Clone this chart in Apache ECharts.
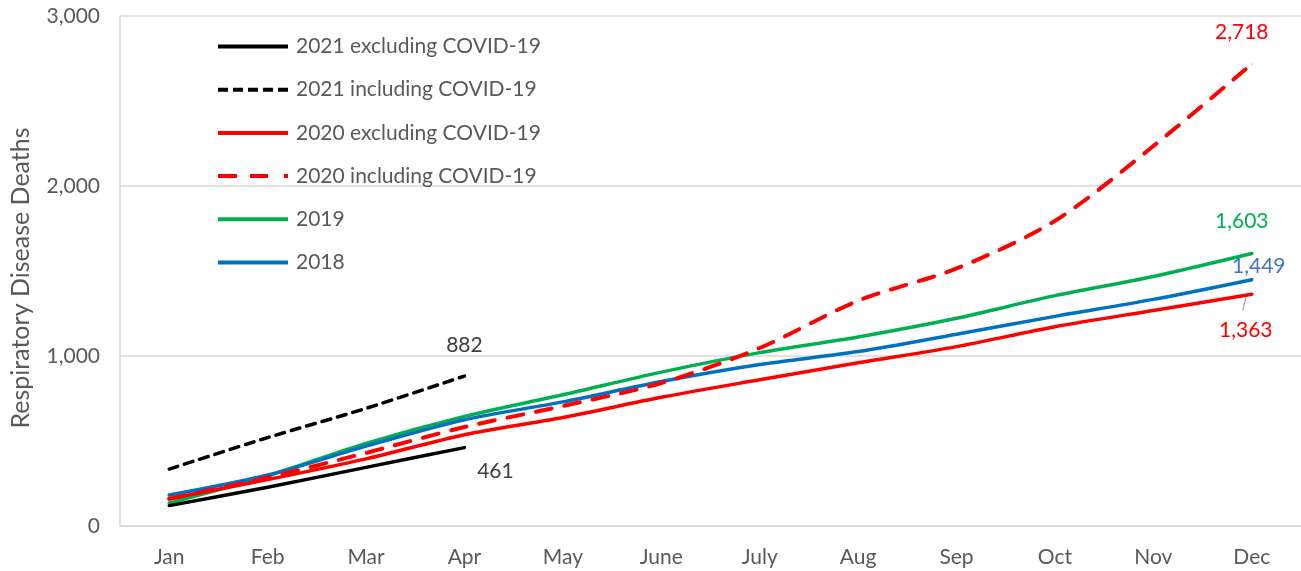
<!DOCTYPE html>
<html>
<head>
<meta charset="utf-8">
<script src="https://cdn.jsdelivr.net/npm/echarts@6/dist/echarts.min.js"></script>
<style>
html,body{margin:0;padding:0;background:#fff;}
#chart{width:1301px;height:571px;}
</style>
</head>
<body>
<div id="chart"></div>
<script>
const months = ['Jan','Feb','Mar','Apr','May','June','July','Aug','Sep','Oct','Nov','Dec'];
const yTicks = [0, 1000, 2000, 3000];

const d2021ex = [120, 228, 345, 461];
const d2021in = [335, 520, 692, 882];
const d2020ex = [160, 273, 395, 537, 638, 757, 860, 960, 1055, 1172, 1268, 1363];
const d2020in = [160, 285, 430, 582, 706, 841, 1047, 1325, 1515, 1795, 2235, 2718];
const d2019   = [135, 295, 486, 645, 772, 905, 1020, 1112, 1222, 1355, 1468, 1603];
const d2018   = [182, 300, 470, 625, 730, 850, 950, 1026, 1128, 1233, 1333, 1449];

const names = ['2021 excluding COVID-19','2021 including COVID-19','2020 excluding COVID-19','2020 including COVID-19','2019','2018'];

const fontFam = 'Lato, "Liberation Sans", sans-serif';

const iconSolid = 'path://M0,0h70v4h-70z';
const iconBlackDash = 'path://M0,0h10v4h-10z M15,0h10v4h-10z M30,0h10v4h-10z M45,0h10v4h-10z M60,0h10v4h-10z';
const iconRedDash = 'path://M0,0h19v4h-19z M32,0h18v4h-18z M66,0h4v4h-4z';

function withLastLabel(arr, labelCfg) {
  return arr.map((v, i) => {
    if (i !== arr.length - 1) return { value: v, symbol: 'none' };
    const item = {
      value: v,
      symbol: 'circle',
      symbolSize: 1,
      label: Object.assign({ show: true, fontSize: 21, fontFamily: fontFam, formatter: p => p.value.toLocaleString('en-US') }, labelCfg.label)
    };
    if (labelCfg.labelLine) item.labelLine = labelCfg.labelLine;
    return item;
  });
}

function mkSeries(name, data, color, type, width, z, lab) {
  return {
    name: name,
    type: 'line',
    data: withLastLabel(data, lab),
    smooth: 0.3,
    showSymbol: true,
    symbol: 'none',
    z: z,
    lineStyle: { color: color, width: width, type: type, cap: 'round' },
    itemStyle: { color: color },
    emphasis: { disabled: true },
    animation: false
  };
}

const chart = echarts.init(document.getElementById('chart'), null, { renderer: 'canvas' });
chart.setOption({
  animation: false,
  backgroundColor: '#fff',
  grid: { left: 117.5, right: -4.5, top: 16, bottom: 45, containLabel: false },
  legend: {
    orient: 'vertical',
    left: 213,
    top: 31,
    itemWidth: 70,
    itemHeight: 14,
    itemGap: 22.2,
    data: [
      { name: names[0], icon: iconSolid },
      { name: names[1], icon: iconBlackDash },
      { name: names[2], icon: iconSolid },
      { name: names[3], icon: iconRedDash },
      { name: names[4], icon: iconSolid },
      { name: names[5], icon: iconSolid }
    ],
    symbolKeepAspect: true,
    textStyle: { fontSize: 21, color: '#595959', fontFamily: fontFam, padding: [0, 0, 0, 3] },
    selectedMode: false
  },
  xAxis: {
    type: 'category',
    data: months,
    boundaryGap: true,
    axisLine: { show: true, lineStyle: { color: '#d9d9d9', width: 1.5 } },
    axisTick: { show: false },
    axisLabel: { fontSize: 21, color: '#595959', fontFamily: fontFam, margin: 21, interval: 0 },
    splitLine: { show: false }
  },
  yAxis: {
    type: 'value',
    min: yTicks[0],
    max: yTicks[yTicks.length - 1],
    interval: 1000,
    name: 'Respiratory Disease Deaths',
    nameLocation: 'middle',
    nameGap: 87,
    nameRotate: 90,
    nameTextStyle: { fontSize: 25, color: '#595959', fontFamily: fontFam, padding: [0, 14, 0, 0] },
    axisLine: { show: true, lineStyle: { color: '#d9d9d9', width: 1.5 } },
    axisTick: { show: false },
    axisLabel: { fontSize: 21, color: '#595959', fontFamily: fontFam, margin: 20, formatter: v => v.toLocaleString('en-US') },
    splitLine: { show: true, lineStyle: { color: '#d9d9d9', width: 1.5 } }
  },
  series: [
    mkSeries(names[0], d2021ex, '#000000', 'solid', 3.5, 10, { label: { position: 'bottom', distance: 13, offset: [31, 0], color: '#404040' } }),
    mkSeries(names[1], d2021in, '#000000', [9, 7], 3.5, 10, { label: { position: 'top', distance: 20, offset: [0, 0], color: '#404040' } }),
    mkSeries(names[2], d2020ex, '#FF0000', 'solid', 3.5, 7, { label: { position: 'bottom', distance: 25, offset: [-6, 0], color: '#FF0000' } }),
    mkSeries(names[3], d2020in, '#FF0000', [16, 13], 4, 8, { label: { position: 'top', distance: 21, offset: [-10, 0], color: '#FF0000' } }),
    mkSeries(names[4], d2019, '#00B050', 'solid', 3.5, 5, { label: { position: 'top', distance: 21, offset: [-10, 0], color: '#00B050' } }),
    mkSeries(names[5], d2018, '#0070C0', 'solid', 3.5, 6, { label: { position: 'top', distance: 2, offset: [7, 0], color: '#4472C4' } })
  ],
  graphic: []
});

// short grey leader line under the last 2020-excluding point, placed through the chart's own scale
(function addLeader() {
  const last = d2020ex.length - 1;
  const p = chart.convertToPixel({ gridIndex: 0 }, [months[last], d2020ex[last]]);
  chart.setOption({
    graphic: [{
      type: 'line',
      shape: { x1: p[0] - 6, y1: p[1] + 3, x2: p[0] - 9, y2: p[1] + 16 },
      style: { stroke: '#a6a6a6', lineWidth: 1.3 },
      silent: true,
      z: 20
    }]
  });
})();
</script>
</body>
</html>
